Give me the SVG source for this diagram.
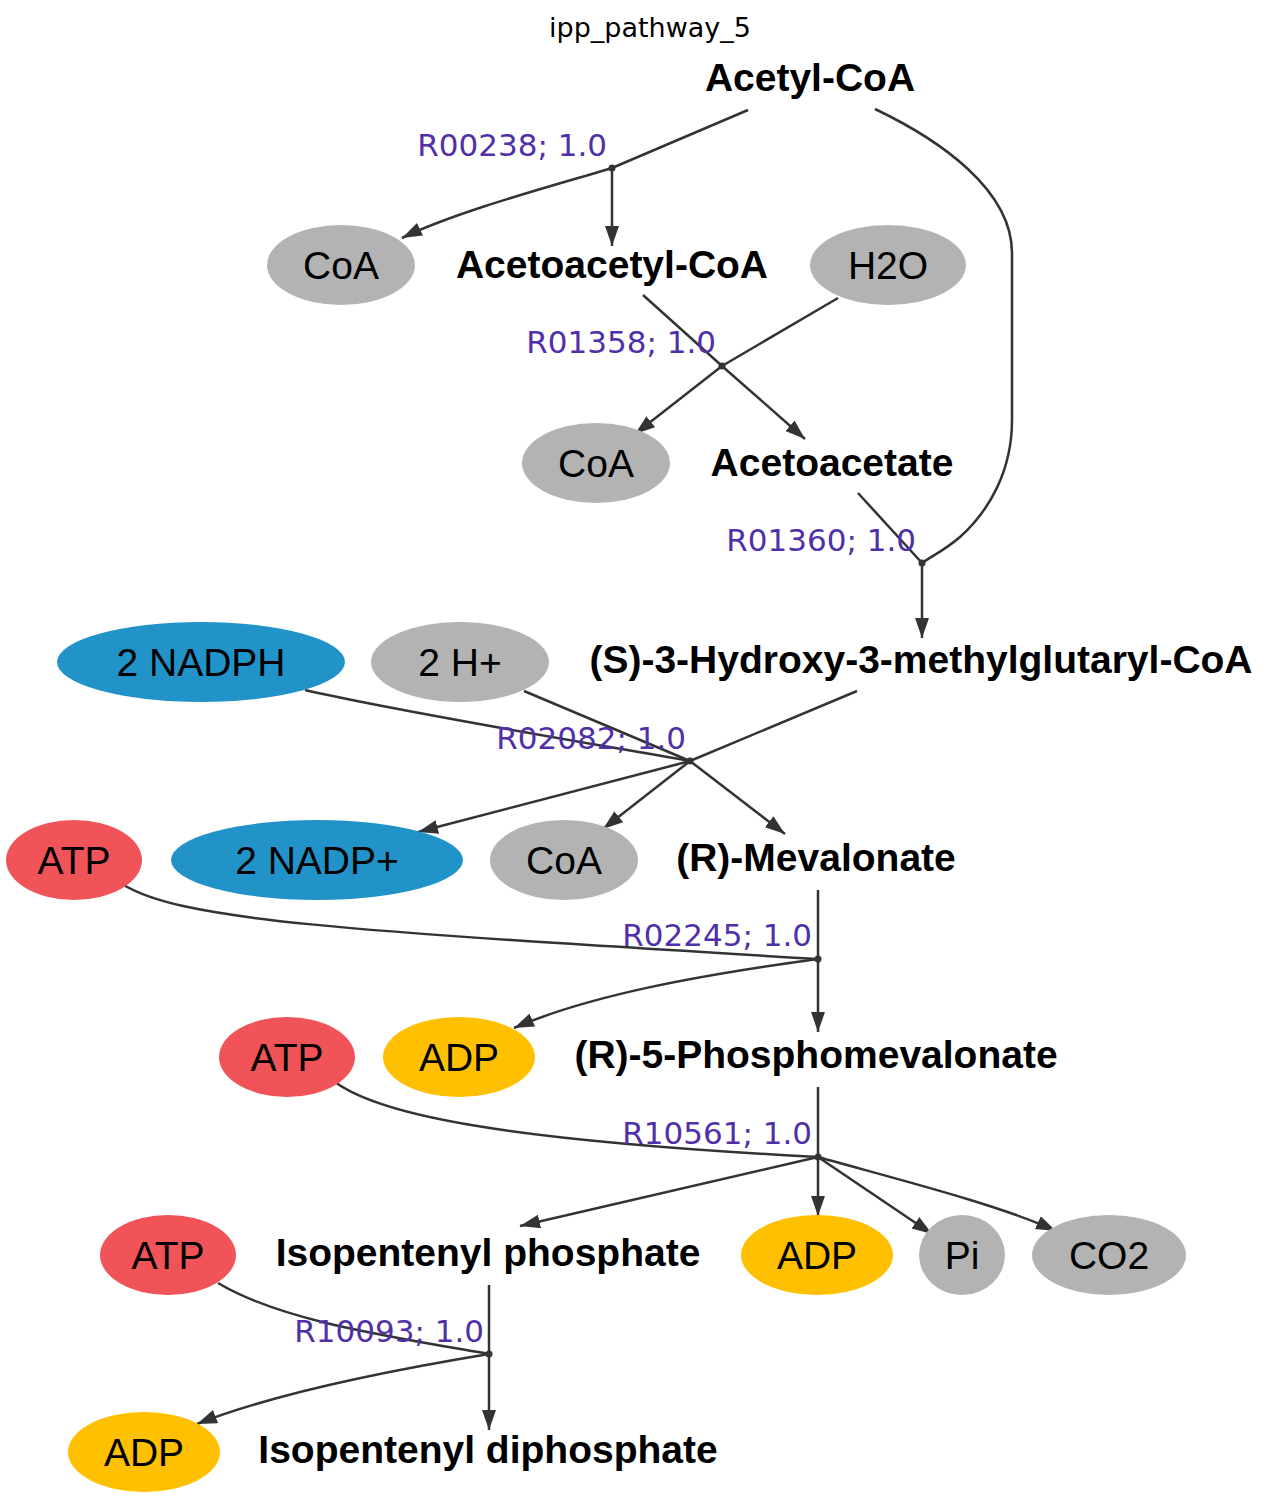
<svg xmlns="http://www.w3.org/2000/svg" width="1272" height="1500" viewBox="0 0 1272 1500">
<style>
.bg{fill:#ffffff}
.title{font-family:"DejaVu Sans",sans-serif;font-size:27px;fill:#000;text-anchor:middle}
.cmp{font-family:"Liberation Sans",Arial,sans-serif;font-weight:bold;font-size:39px;fill:#000;text-anchor:middle}
.sm{font-family:"Liberation Sans",Arial,sans-serif;font-size:39px;fill:#000;text-anchor:middle}
.rl{font-family:"DejaVu Sans",sans-serif;font-size:31px;fill:#5030a8;text-anchor:end}
.gray{fill:#b3b3b3}
.blue{fill:#2193c9}
.red{fill:#f05458}
.yel{fill:#fec000}
.e{fill:none;stroke:#333333;stroke-width:2.5}
.a{marker-end:url(#arr)}
.dot{fill:#333333}
</style>
<defs>
<marker id="arr" markerUnits="userSpaceOnUse" markerWidth="22" markerHeight="16" refX="20" refY="7" orient="auto" viewBox="0 0 22 16">
<path d="M0,0 L20,7 L0,14 z" fill="#333333"/>
</marker>
</defs>
<rect class="bg" x="0" y="0" width="1272" height="1500"/>
<text class="title" x="650" y="37">ipp_pathway_5</text>

<g id="connectors">
<!-- R00238 -->
<path class="e" d="M748,110 L612,168"/>
<path class="e a" d="M612,168 C560,184 460,210 402,238"/>
<path class="e a" d="M612,168 L612,246"/>
<path class="e" d="M875,109 C940,140 1012,190 1012,253 L1012,420 C1012,470 990,510 960,537 C945,550 932,556 922,563"/>
<!-- R01358 -->
<path class="e" d="M643,295 L722,366"/>
<path class="e" d="M838,298 L722,366"/>
<path class="e a" d="M722,366 L635,434"/>
<path class="e a" d="M722,366 L805,439"/>
<!-- R01360 -->
<path class="e" d="M858,493 L922,563"/>
<path class="e a" d="M922,563 L922,638"/>
<!-- R02082 -->
<path class="e" d="M305,690 C400,712 600,745 690,761"/>
<path class="e" d="M524,691 L690,761"/>
<path class="e" d="M857,691 L690,761"/>
<path class="e a" d="M690,761 L418,832"/>
<path class="e a" d="M690,761 L603,829"/>
<path class="e a" d="M690,761 L785,834"/>
<!-- R02245 -->
<path class="e" d="M818,890 L818,959"/>
<path class="e" d="M122,884 C180,920 330,930 818,959"/>
<path class="e a" d="M818,959 C700,975 590,995 514,1028"/>
<path class="e a" d="M818,959 L818,1032"/>
<!-- R10561 -->
<path class="e" d="M818,1087 L818,1157"/>
<path class="e" d="M335,1082 C380,1115 500,1140 818,1157"/>
<path class="e a" d="M818,1157 L520,1226"/>
<path class="e a" d="M818,1157 L818,1216"/>
<path class="e a" d="M818,1157 L932,1234"/>
<path class="e a" d="M818,1157 C900,1180 1000,1205 1056,1231"/>
<!-- R10093 -->
<path class="e" d="M489,1285 L489,1354"/>
<path class="e" d="M218,1283 C280,1320 380,1335 489,1354"/>
<path class="e a" d="M489,1354 C380,1372 270,1395 197,1424"/>
<path class="e a" d="M489,1354 L489,1430"/>
</g>

<g id="reactions">
<g id="R00238"><circle class="dot" cx="612" cy="168" r="3.5"/><text class="rl" x="607" y="156">R00238; 1.0</text></g>
<g id="R01358"><circle class="dot" cx="722" cy="366" r="3.5"/><text class="rl" x="716" y="353">R01358; 1.0</text></g>
<g id="R01360"><circle class="dot" cx="922" cy="563" r="3.5"/><text class="rl" x="916" y="551">R01360; 1.0</text></g>
<g id="R02082"><circle class="dot" cx="690" cy="761" r="3.5"/><text class="rl" x="686" y="749">R02082; 1.0</text></g>
<g id="R02245"><circle class="dot" cx="818" cy="959" r="3.5"/><text class="rl" x="812" y="946">R02245; 1.0</text></g>
<g id="R10561"><circle class="dot" cx="818" cy="1157" r="3.5"/><text class="rl" x="812" y="1144">R10561; 1.0</text></g>
<g id="R10093"><circle class="dot" cx="489" cy="1354" r="3.5"/><text class="rl" x="484" y="1342">R10093; 1.0</text></g>
</g>

<g id="acetyl_coa"><text class="cmp" x="810" y="91">Acetyl-CoA</text></g>
<g id="coa_1"><ellipse class="gray" cx="341" cy="265" rx="74" ry="40"/><text class="sm" x="341" y="279">CoA</text></g>
<g id="acetoacetyl_coa"><text class="cmp" x="612" y="278">Acetoacetyl-CoA</text></g>
<g id="h2o"><ellipse class="gray" cx="888" cy="265" rx="78" ry="40"/><text class="sm" x="888" y="279">H2O</text></g>
<g id="coa_2"><ellipse class="gray" cx="596" cy="463" rx="74" ry="40"/><text class="sm" x="596" y="477">CoA</text></g>
<g id="acetoacetate"><text class="cmp" x="832" y="476">Acetoacetate</text></g>
<g id="hmg_coa"><text class="cmp" x="921" y="673">(S)-3-Hydroxy-3-methylglutaryl-CoA</text></g>
<g id="nadph"><ellipse class="blue" cx="201" cy="662" rx="144" ry="40"/><text class="sm" x="201" y="676">2 NADPH</text></g>
<g id="hplus"><ellipse class="gray" cx="460" cy="662" rx="89" ry="40"/><text class="sm" x="460" y="676">2 H+</text></g>
<g id="atp_1"><ellipse class="red" cx="74" cy="860" rx="68" ry="40"/><text class="sm" x="74" y="874">ATP</text></g>
<g id="nadp"><ellipse class="blue" cx="317" cy="860" rx="146" ry="40"/><text class="sm" x="317" y="874">2 NADP+</text></g>
<g id="coa_3"><ellipse class="gray" cx="564" cy="860" rx="74" ry="40"/><text class="sm" x="564" y="874">CoA</text></g>
<g id="mevalonate"><text class="cmp" x="816" y="871">(R)-Mevalonate</text></g>
<g id="atp_2"><ellipse class="red" cx="287" cy="1057" rx="68" ry="40"/><text class="sm" x="287" y="1071">ATP</text></g>
<g id="adp_1"><ellipse class="yel" cx="459" cy="1057" rx="76" ry="40"/><text class="sm" x="459" y="1071">ADP</text></g>
<g id="p_mevalonate"><text class="cmp" x="816" y="1068">(R)-5-Phosphomevalonate</text></g>
<g id="atp_3"><ellipse class="red" cx="168" cy="1255" rx="68" ry="40"/><text class="sm" x="168" y="1269">ATP</text></g>
<g id="ip"><text class="cmp" x="488" y="1266">Isopentenyl phosphate</text></g>
<g id="adp_2"><ellipse class="yel" cx="817" cy="1255" rx="76" ry="40"/><text class="sm" x="817" y="1269">ADP</text></g>
<g id="pi"><ellipse class="gray" cx="962" cy="1255" rx="43" ry="40"/><text class="sm" x="962" y="1269">Pi</text></g>
<g id="co2"><ellipse class="gray" cx="1109" cy="1255" rx="77" ry="40"/><text class="sm" x="1109" y="1269">CO2</text></g>
<g id="adp_3"><ellipse class="yel" cx="144" cy="1452" rx="76" ry="40"/><text class="sm" x="144" y="1466">ADP</text></g>
<g id="ipp"><text class="cmp" x="488" y="1463">Isopentenyl diphosphate</text></g>
</svg>
